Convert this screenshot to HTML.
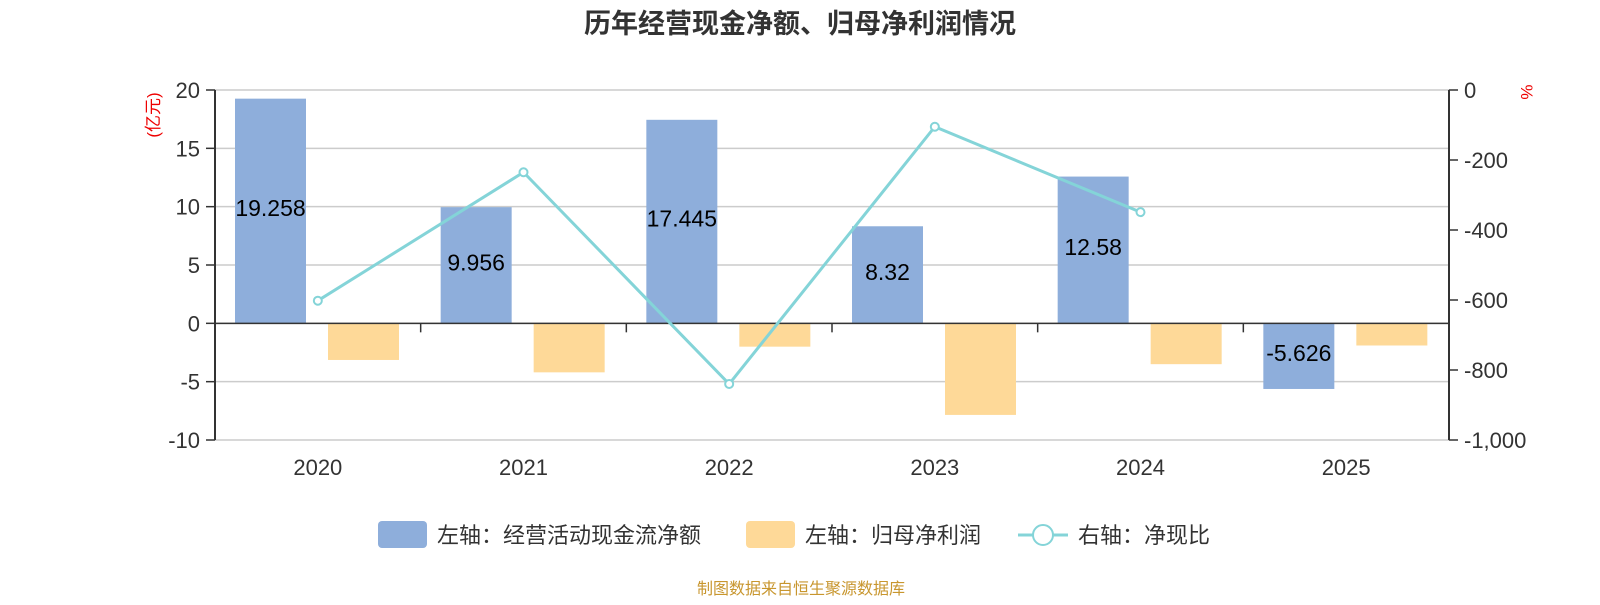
<!DOCTYPE html>
<html><head><meta charset="utf-8"><style>
body{margin:0;background:#fff;width:1600px;height:600px;overflow:hidden;font-family:"Liberation Sans","Noto Sans CJK SC",sans-serif}
</style></head><body>
<svg id="c" width="1600" height="600" font-family="Liberation Sans, Noto Sans CJK SC, sans-serif"></svg>
<script>
const categories=["2020","2021","2022","2023","2024","2025"];
const cashFlow=[19.258,9.956,17.445,8.32,12.58,-5.626];
const netProfit=[-3.14,-4.2,-2.0,-7.85,-3.5,-1.9];
const ratio=[-602,-235,-840,-105,-349,null];
const leftTicks=[20,15,10,5,0,-5,-10];
const rightTicks=[0,-200,-400,-600,-800,-1000];
const rightLabels=["0","-200","-400","-600","-800","-1,000"];
const X0=215,X1=1449,Y0=90,Y1=440;
const yL=v=>Y0+(20-v)/30*(Y1-Y0);
const yR=v=>Y0+(0-v)/1000*(Y1-Y0);
const bw=(X1-X0)/categories.length;
const svg=document.getElementById('c');const NS='http://www.w3.org/2000/svg';
function mk(t,a,p){const e=document.createElementNS(NS,t);for(const k in a)e.setAttribute(k,a[k]);(p||svg).appendChild(e);return e;}
function tx(x,y,s,a){const e=mk('text',Object.assign({x:x,y:y},a));e.textContent=s;return e;}
let t=tx(800,33,'历年经营现金净额、归母净利润情况',{'text-anchor':'middle','font-size':27,'font-weight':'bold',fill:'#333'});

leftTicks.forEach(v=>{const y=yL(v);
 let g=mk('line',{x1:X0,x2:X1,y1:y,y2:y,stroke:'#ccc','stroke-width':1.5});
 mk('line',{x1:X0-9,x2:X0,y1:y,y2:y,stroke:'#333','stroke-width':1.5});
 let l=tx(X0-15,y+8,String(v),{'text-anchor':'end','font-size':22,fill:'#333'});});
rightTicks.forEach((v,i)=>{const y=yR(v);mk('line',{x1:X1,x2:X1+9,y1:y,y2:y,stroke:'#333','stroke-width':1.5});
 let l=tx(X1+15,y+8,rightLabels[i],{'font-size':22,fill:'#333'});});
mk('line',{x1:X0,x2:X0,y1:Y0,y2:Y1,stroke:'#333','stroke-width':2});
mk('line',{x1:X1,x2:X1,y1:Y0,y2:Y1,stroke:'#333','stroke-width':2});
let u=tx(0,0,'(亿元)',{transform:'translate(159,115) rotate(-90)','text-anchor':'middle','font-size':17,fill:'#e00'});
u=tx(0,0,'%',{transform:'translate(1521,92) rotate(90)','text-anchor':'middle','font-size':17,fill:'#e00'});
const z=yL(0);
categories.forEach((c,i)=>{const x=X0+i*bw;
 if(i>0){mk('line',{x1:x,x2:x,y1:z,y2:z+9,stroke:'#333','stroke-width':1.5});}
 let l=tx(x+bw/2,475,c,{'text-anchor':'middle','font-size':22,fill:'#333'});
 let v=cashFlow[i];let b=mk('rect',{x:x+20,width:71,y:Math.min(yL(v),z),height:Math.abs(yL(v)-z),fill:'#8eaedb'});
 
 let bl=tx(x+55.5,(yL(v)+z)/2+5,String(v),{'text-anchor':'middle','font-size':23,fill:'#000'});
 v=netProfit[i];b=mk('rect',{x:x+113,width:71,y:Math.min(yL(v),z),height:Math.abs(yL(v)-z),fill:'#fed998'});
 });
mk('line',{x1:X0,x2:X1,y1:z,y2:z,stroke:'#333','stroke-width':1.5});
const pts=[];ratio.forEach((v,i)=>{if(v!==null)pts.push([X0+(i+0.5)*bw,yR(v)]);});
let pl=mk('polyline',{points:pts.map(p=>p.join(',')).join(' '),fill:'none',stroke:'#84d4d8','stroke-width':3});

pts.forEach(p=>{let c=mk('circle',{cx:p[0],cy:p[1],r:4,fill:'#fff',stroke:'#84d4d8','stroke-width':2});});
let g=mk('g',{});
mk('rect',{x:378,y:521,width:49,height:27,rx:4,fill:'#8eaedb'},g);
g.appendChild(tx(437,543,'左轴：经营活动现金流净额',{'font-size':22,fill:'#333'}));
g=mk('g',{});
mk('rect',{x:746,y:521,width:49,height:27,rx:4,fill:'#fed998'},g);
g.appendChild(tx(805,543,'左轴：归母净利润',{'font-size':22,fill:'#333'}));
g=mk('g',{});
mk('line',{x1:1018,x2:1068,y1:535,y2:535,stroke:'#84d4d8','stroke-width':3},g);
mk('circle',{cx:1043,cy:535,r:10,fill:'#fff',stroke:'#84d4d8','stroke-width':2},g);
g.appendChild(tx(1078,543,'右轴：净现比',{'font-size':22,fill:'#333'}));
let f=tx(801,594,'制图数据来自恒生聚源数据库',{'text-anchor':'middle','font-size':16,fill:'#c8962e'});
</script>
</body></html>
